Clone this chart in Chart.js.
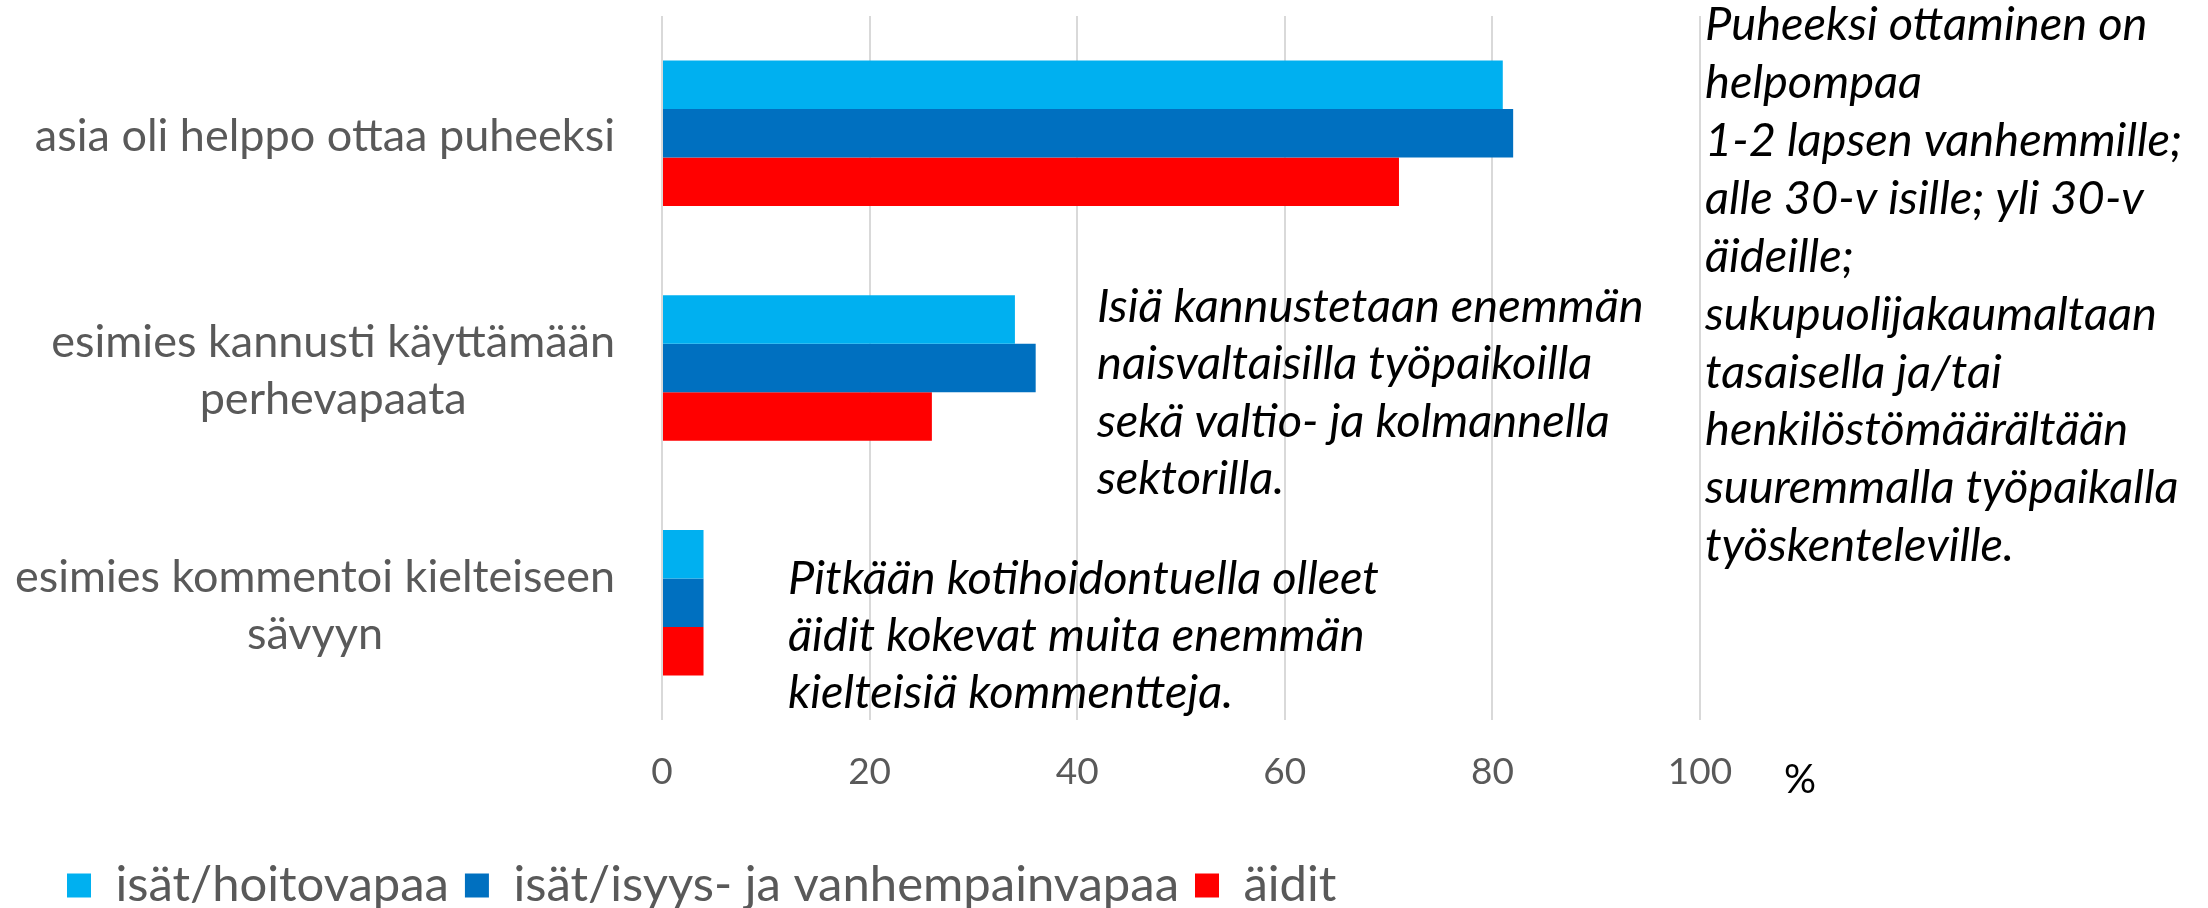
<!DOCTYPE html>
<html>
<head>
<meta charset="utf-8">
<script src="https://cdn.jsdelivr.net/npm/chart.js@4.4.1/dist/chart.umd.min.js"></script>
<style>
    html, body { margin: 0; padding: 0; background: #fff; }
</style>
</head>
<body>
<canvas id="chart" width="2208" height="908"></canvas>
<script>
// categories (rows) and series
const kategoriat = [
    ["asia oli helppo ottaa puheeksi"],
    ["esimies kannusti käyttämään", "perhevapaata"],
    ["esimies kommentoi kielteiseen", "sävyyn"]
];
const isatHoitovapaa = [81, 34, 4];
const isatIsyysVanhempain = [82, 36, 4];
const aidit = [71, 26, 4];
const sarjat = ["isät/hoitovapaa", "isät/isyys- ja vanhempainvapaa", "äidit"];
const xTicks = [0, 20, 40, 60, 80, 100];

// kommentit kuvan päällä
const huomioOikea = [
    "Puheeksi ottaminen on",
    "helpompaa",
    "1-2 lapsen vanhemmille;",
    "alle 30-v isille; yli 30-v",
    "äideille;",
    "sukupuolijakaumaltaan",
    "tasaisella ja/tai",
    "henkilöstömäärältään",
    "suuremmalla työpaikalla",
    "työskenteleville."
];
const huomioKeski = [
    "Isiä kannustetaan enemmän",
    "naisvaltaisilla työpaikoilla",
    "sekä valtio- ja kolmannella",
    "sektorilla."
];
const huomioAla = [
    "Pitkään kotihoidontuella olleet",
    "äidit kokevat muita enemmän",
    "kielteisiä kommentteja."
];

const harmaa = "#595959";

// Excel-tyyliset luokkanimet: lohko oikealle, rivit keskitetty lohkon sisällä
const luokkaNimet = {
    id: "luokkaNimet",
    afterDraw(chart) {
        const ctx = chart.ctx;
        const y = chart.scales.y;
        const oikea = 615;
        ctx.save();
        ctx.fillStyle = harmaa;
        ctx.font = "45px Lato";
        ctx.textAlign = "center";
        ctx.textBaseline = "middle";
        kategoriat.forEach((rivit, i) => {
            const leveys = Math.min(600, Math.max(...rivit.map(r => ctx.measureText(r).width)));
            const keski = oikea - leveys / 2;
            const yKeski = y.getPixelForTick(i) + 3;
            rivit.forEach((r, j) => {
                ctx.fillText(r, keski, yKeski + (j - (rivit.length - 1) / 2) * 57, 600);
            });
        });
        ctx.restore();
    }
};

const tekstit = {
    id: "tekstit",
    afterDraw(chart) {
        const ctx = chart.ctx;
        ctx.save();
        ctx.fillStyle = "#000";
        ctx.textAlign = "left";
        ctx.textBaseline = "middle";
        ctx.font = "italic 47px Lato";
        huomioOikea.forEach((t, i) => ctx.fillText(t, 1705, 25 + i * 57.9, 500));
        huomioKeski.forEach((t, i) => ctx.fillText(t, 1097, 307 + i * 57.3));
        huomioAla.forEach((t, i) => ctx.fillText(t, 788, 579 + i * 57, 591));
        ctx.font = "40px Lato";
        ctx.textAlign = "center";
        ctx.fillText("%", 1800, 780);
        ctx.restore();
    }
};

new Chart(document.getElementById("chart"), {
    type: "bar",
    data: {
        labels: kategoriat,
        datasets: [
            { label: sarjat[0], data: isatHoitovapaa, backgroundColor: "#00B0F0", borderWidth: 0 },
            { label: sarjat[1], data: isatIsyysVanhempain, backgroundColor: "#0070C0", borderWidth: 0 },
            { label: sarjat[2], data: aidit, backgroundColor: "#FF0000", borderWidth: 0 }
        ]
    },
    options: {
        indexAxis: "y",
        responsive: false,
        animation: false,
        devicePixelRatio: 1,
        layout: { padding: { left: 51, right: 508, top: 16, bottom: -12 } },
        datasets: { bar: { categoryPercentage: 0.62, barPercentage: 1.0 } },
        scales: {
            x: {
                min: 0,
                max: 100,
                afterBuildTicks: axis => { axis.ticks = xTicks.map(v => ({ value: v })); },
                afterFit: axis => { axis.height = 125; },
                border: { display: false },
                grid: { color: "#d9d9d9", lineWidth: 2, drawTicks: false },
                ticks: { color: harmaa, font: { family: "Lato", size: 37 }, padding: 30 }
            },
            y: {
                afterFit: axis => { axis.width = 611; },
                border: { display: false },
                grid: { display: false, drawTicks: false },
                ticks: { display: false }
            }
        },
        plugins: {
            legend: {
                position: "bottom",
                align: "start",
                labels: {
                    color: harmaa,
                    font: { family: "Lato", size: 49 },
                    boxWidth: 24,
                    boxHeight: 24,
                    padding: 16
                }
            },
            tooltip: { enabled: false }
        }
    },
    plugins: [luokkaNimet, tekstit]
});
</script>
</body>
</html>
